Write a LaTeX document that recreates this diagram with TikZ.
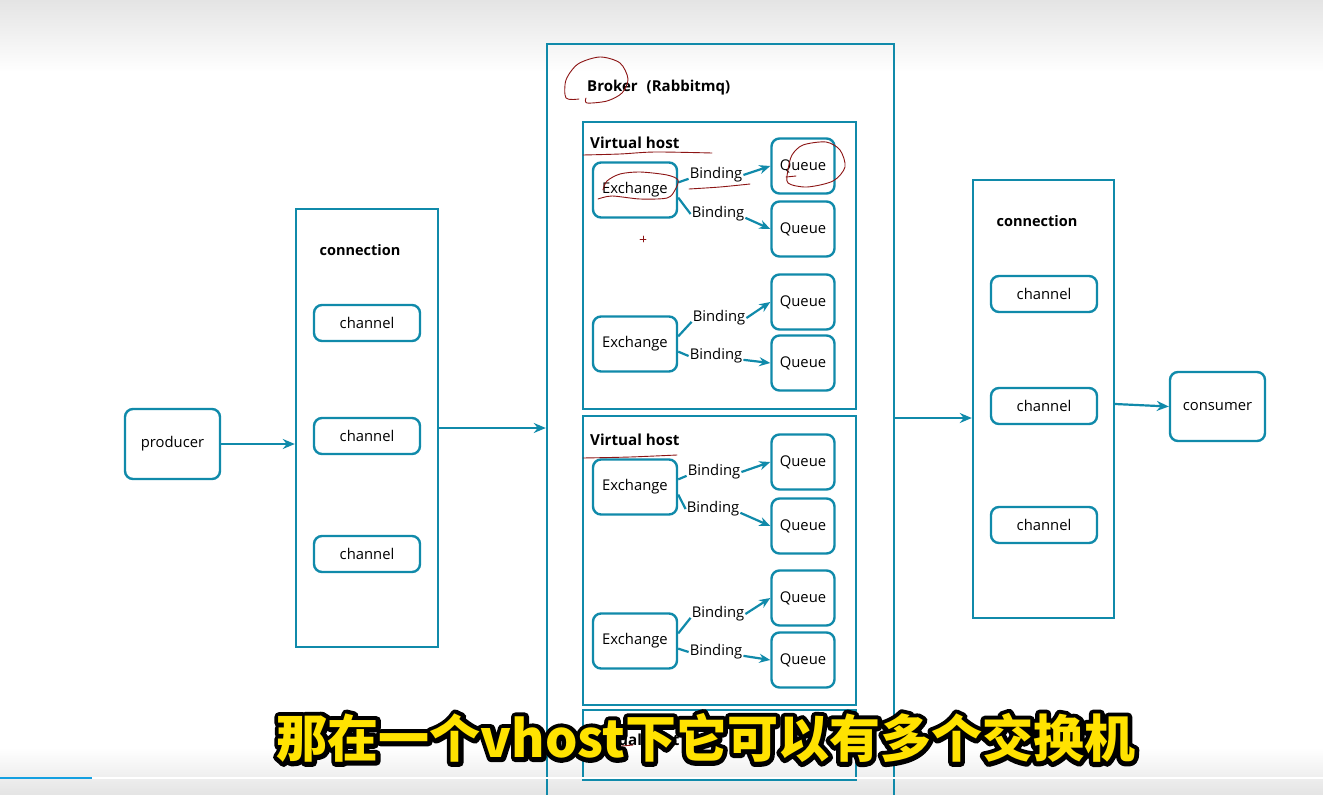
\documentclass[tikz,border=0pt]{standalone}
\usepackage{fontspec}
\setmainfont{Open Sans}
\newfontfamily\cjk{Noto Sans CJK SC}
\usetikzlibrary{arrows.meta,calc}
\definecolor{teal1}{RGB}{16,138,170}
\definecolor{note}{RGB}{140,20,20}
\definecolor{subyellow}{RGB}{255,226,0}
\definecolor{bggray}{RGB}{228,228,228}
\definecolor{barblue}{RGB}{20,160,225}
\begin{document}
\begin{tikzpicture}[x=1pt,y=-1pt,
  txt/.style={font=\fontsize{14.8}{16}\selectfont},
  box/.style={draw=teal1,line width=2.4pt,rounded corners=8pt,txt,inner sep=0pt,align=center},
  frame/.style={draw=teal1,line width=2.4pt,inner sep=0pt},
  title/.style={font=\bfseries\fontsize{14.5}{16}\selectfont,inner sep=0pt},
  vhtitle/.style={title,anchor=west,font=\bfseries\fontsize{15.2}{17}\selectfont},
  chan/.style={box,minimum width=106pt,minimum height=36pt},
  exch/.style={box,minimum width=84pt,minimum height=55pt},
  queue/.style={box,minimum width=63pt,minimum height=55pt},
  bind/.style={txt,inner sep=1pt},
  link/.style={draw=teal1,line width=2.2pt},
  arr/.style={link,-{Stealth[length=12pt,width=10pt]}},
  barr/.style={link,-{Stealth[length=11pt,width=9pt]}},
  note/.style={draw=note,line width=0.9pt,line cap=round,line join=round}]
\useasboundingbox (0,0) rectangle (1323,795);
% background
\fill[white] (0,0) rectangle (1323,795);
\shade[top color=bggray,bottom color=white] (0,0) rectangle (1323,72);
\shade[top color=white,bottom color=bggray] (0,748) rectangle (1323,795);

% left side
\node[box,minimum width=95pt,minimum height=70pt] (producer) at (172.5,444) {producer};
\node[frame,minimum width=142pt,minimum height=438pt] (lconn) at (367,428) {};
\node[title] (lconnlbl) at (360,250) {connection};
\node[chan] (lch1) at (367,323) {channel};
\node[chan] (lch2) at (367,436) {channel};
\node[chan] (lch3) at (367,554) {channel};

% broker
\node[frame,minimum width=347pt,minimum height=770pt] (broker) at (720.5,429) {};
\node[title,anchor=west,font=\bfseries\fontsize{15}{17}\selectfont] (brokerlbl) at (587,88) {Broker\hspace{9pt}(Rabbitmq)};

% virtual host 1
\node[frame,minimum width=273pt,minimum height=287pt] (vh1) at (719.5,265.5) {};
\node[vhtitle] (vh1lbl) at (590,143) {Virtual host};
\node[exch] (ex1) at (635,190) {Exchange};
\node[queue] (q1) at (803,166) {Queue};
\node[queue] (q2) at (803,229) {Queue};
\node[bind] (b1) at (716,175) {Binding};
\node[bind] (b2) at (718,214) {Binding};
\node[exch] (ex2) at (635,344) {Exchange};
\node[queue] (q3) at (803,302) {Queue};
\node[queue] (q4) at (803,363) {Queue};
\node[bind] (b3) at (719,318) {Binding};
\node[bind] (b4) at (716,356) {Binding};

% virtual host 2
\node[frame,minimum width=273pt,minimum height=289pt] (vh2) at (719.5,560.5) {};
\node[vhtitle] (vh2lbl) at (590,440) {Virtual host};
\node[exch] (ex3) at (635,487) {Exchange};
\node[queue] (q5) at (803,462) {Queue};
\node[queue] (q6) at (803,526) {Queue};
\node[bind] (b5) at (714,472) {Binding};
\node[bind] (b6) at (713,509) {Binding};
\node[exch] (ex4) at (635,641) {Exchange};
\node[queue] (q7) at (803,598) {Queue};
\node[queue] (q8) at (803,660) {Queue};
\node[bind] (b7) at (718,614) {Binding};
\node[bind] (b8) at (716,652) {Binding};

% virtual host 3 (partly hidden)
\node[frame,minimum width=273pt,minimum height=70pt] (vh3) at (719.5,745) {};
\node[vhtitle] (vh3lbl) at (590,740) {Virtual host};

% bindings
\foreach \e/\bu/\qu/\bl/\ql in {ex1/b1/q1/b2/q2, ex2/b3/q3/b4/q4, ex3/b5/q5/b6/q6, ex4/b7/q7/b8/q8}{
  \draw[link] (\e.10) -- (\bu.base west);
  \draw[barr] (\bu.east) -- (\qu.west);
  \draw[link] (\e.-10) -- (\bl.west);
  \draw[barr] (\bl.base east) -- (\ql.west);
}

% right side
\node[frame,minimum width=141pt,minimum height=438pt] (rconn) at (1043.5,399) {};
\node[title] (rconnlbl) at (1037,221) {connection};
\node[chan] (rch1) at (1044,294) {channel};
\node[chan] (rch2) at (1044,406) {channel};
\node[chan] (rch3) at (1044,525) {channel};
\node[box,minimum width=95pt,minimum height=69pt] (consumer) at (1217.5,406.5) {consumer};

% main connectors
\coordinate (pa) at (220,444);
\coordinate (ca) at (438,428);
\coordinate (ba) at (895,418);
\coordinate (ra) at (1115,404);
\draw[arr] (pa) -- (pa -| lconn.west);
\draw[arr] (ca) -- (ca -| broker.west);
\draw[arr] (ba) -- (ba -| rconn.west);
\draw[arr] (ra) -- (consumer.west);

% hand-drawn annotations
\draw[note] plot[smooth] coordinates {(579,99) (566,98) (566,80) (578,64) (600,57) (620,63) (628,79) (622,93) (607,101) (587,103) (586,98)};
\draw[note] plot[smooth] coordinates {(583,155) (620,154) (655,152) (712,153)};
\draw[note] plot[smooth] coordinates {(598,199) (612,196) (640,199) (667,198) (675,190) (678,180) (667,175) (640,172) (620,174) (607,181) (603,190)};
\draw[note] plot[smooth] coordinates {(689,189) (720,187) (750,184)};
\draw[note] plot[smooth cycle] coordinates {(788,183) (807,187) (833,181) (845,167) (840,150) (826,142) (803,145) (792,155) (788,170)};
\draw[note] (786,177) -- (796,176);
\draw[note] plot[smooth] coordinates {(583,458) (630,457) (677,455)};
\draw[note] plot[smooth] coordinates {(590,748) (610,747) (633,745)};
\draw[note,line width=0.6pt] (640,239) -- (646,239) (643,236) -- (643,242);

% progress bar
\draw[white,line width=1.5pt] (88,778) -- (1323,778);
\draw[barblue,line width=2pt] (0,778) -- (92,778);

% subtitle
\node[font=\cjk\bfseries\fontsize{51}{60}\selectfont,text=black,inner sep=0pt] (subo) at (706,738)
  {\special{pdf:literal direct 1 Tr 9 w 1 j 1 J 0 0 0 RG}那在一个vhost下它可以有多个交换机\special{pdf:literal direct 0 Tr}};
\node[font=\cjk\bfseries\fontsize{51}{60}\selectfont,text=subyellow,inner sep=0pt] (sub) at (706,738)
  {那在一个vhost下它可以有多个交换机};
\end{tikzpicture}
\end{document}
